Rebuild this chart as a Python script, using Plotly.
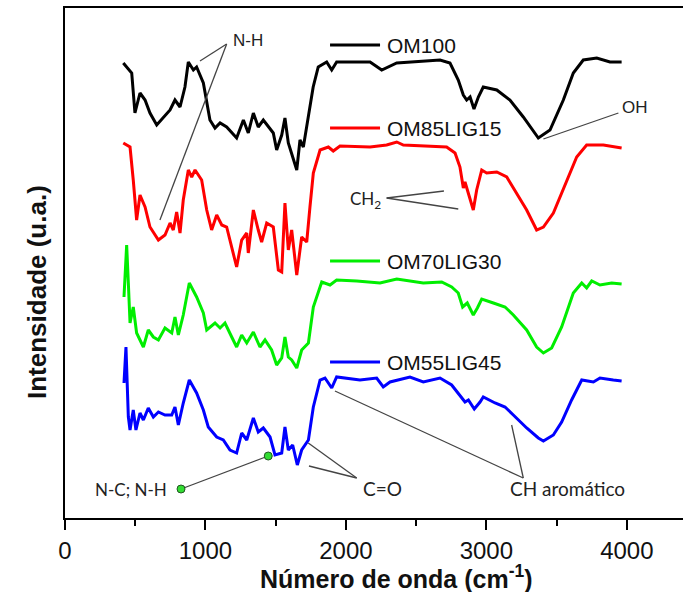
import plotly.graph_objects as go

# ---------------- data ----------------
series_names = ["OM100", "OM85LIG15", "OM70LIG30", "OM55LIG45"]
series_colors = ["#000000", "#ff0000", "#00ee00", "#0000ff"]

om100_x = [415, 475, 498, 534, 570, 605, 653, 699, 748, 783, 819, 854, 878, 914, 937, 985,
           1032, 1068, 1104, 1151, 1222, 1270, 1305, 1341, 1376, 1412, 1483, 1507, 1543, 1566,
           1590, 1650, 1673, 1697, 1730, 1767, 1803, 1863, 1899, 1934, 2172, 2255, 2362, 2670,
           2741, 2800, 2836, 2860, 2884, 2912, 2943, 2978, 3074, 3168, 3263, 3370, 3453, 3548,
           3619, 3690, 3786, 3880, 3963]
om100_y = [455, 445, 405, 425, 418, 405, 393, 400, 408, 418, 411, 431, 456, 448, 451, 435,
           398, 390, 395, 391, 380, 398, 385, 405, 391, 398, 385, 368, 383, 400,
           375, 348, 378, 371, 398, 431, 451, 456, 448, 456, 456, 448, 455, 458,
           455, 438, 423, 418, 421, 409, 421, 431, 428, 418, 401, 380, 388, 418,
           445, 458, 460, 456, 456]

om85_x = [415, 463, 486, 510, 534, 570, 605, 665, 712, 748, 771, 795, 819, 842, 878, 902, 926,
          973, 1009, 1044, 1080, 1116, 1151, 1222, 1258, 1294, 1305, 1341, 1376, 1400, 1436,
          1483, 1519, 1543, 1566, 1590, 1614, 1650, 1685, 1721, 1744, 1768, 1816, 1875, 1910,
          1958, 2172, 2290, 2362, 2409, 2717, 2777, 2812, 2836, 2848, 2872, 2907, 2931, 2967,
          3002, 3074, 3145, 3216, 3287, 3358, 3406, 3477, 3572, 3643, 3714, 3833, 3963]
om85_y = [375, 371, 338, 298, 323, 311, 291, 278, 283, 295, 288, 306, 285, 318, 348, 341, 348,
          338, 308, 288, 303, 293, 291, 251, 278, 285, 265, 308, 288, 276, 295,
          291, 248, 246, 315, 268, 288, 243, 281, 276, 311, 345, 368, 371, 367,
          372, 371, 373, 376, 373, 371, 365, 351, 330, 336, 325, 308, 328, 348,
          345, 346, 341, 325, 308, 288, 291, 305, 338, 361, 373, 373, 370]

om70_x = [420, 439, 451, 463, 486, 510, 558, 593, 629, 665, 712, 760, 783, 807, 842, 885, 937,
          985, 1009, 1068, 1104, 1139, 1187, 1222, 1258, 1294, 1341, 1388, 1424, 1471, 1507,
          1543, 1566, 1590, 1614, 1650, 1685, 1733, 1768, 1828, 1887, 1934, 2077, 2243, 2362,
          2551, 2682, 2753, 2800, 2831, 2864, 2907, 2936, 2967, 3050, 3133, 3192, 3287, 3358,
          3406, 3465, 3536, 3619, 3679, 3714, 3750, 3809, 3892, 3963]
om70_y = [221, 273, 235, 195, 211, 185, 171, 188, 181, 178, 190, 185, 201, 183, 203, 235, 221,
          205, 188, 195, 190, 195, 181, 171, 183, 175, 186, 171, 178, 168, 153,
          160, 181, 161, 158, 150, 168, 175, 211, 236, 233, 238, 237, 235, 239,
          235, 236, 231, 225, 211, 215, 203, 210, 219, 215, 211, 203, 188, 171,
          165, 170, 191, 225, 235, 230, 237, 233, 235, 234]

om55_x = [420, 434, 451, 463, 486, 505, 534, 558, 593, 629, 665, 712, 760, 783, 807, 842, 885,
          937, 985, 1020, 1080, 1127, 1175, 1222, 1258, 1294, 1341, 1376, 1412, 1460, 1495,
          1543, 1566, 1590, 1621, 1654, 1685, 1733, 1768, 1816, 1851, 1899, 1934, 2100, 2219,
          2266, 2314, 2456, 2551, 2670, 2753, 2812, 2848, 2872, 2914, 2955, 2978, 3062, 3133,
          3192, 3287, 3370, 3406, 3477, 3536, 3607, 3679, 3762, 3809, 3904, 3963]
om55_y = [135, 171, 101, 88, 108, 88, 105, 98, 110, 101, 106, 103, 103, 111, 93, 115, 138,
          125, 108, 91, 81, 78, 68, 65, 85, 78, 100, 86, 90, 81, 63,
          65, 91, 68, 73, 53, 68, 78, 111, 138, 140, 130, 141, 138, 140,
          131, 136, 141, 136, 140, 133, 123, 116, 118, 109, 116, 121, 115, 111,
          103, 90, 80, 77, 83, 96, 118, 138, 136, 140, 138, 137]

series_x = [om100_x, om85_x, om70_x, om55_x]
series_y = [om100_y, om85_y, om70_y, om55_y]

x_ticks = [0, 1000, 2000, 3000, 4000]
legend_label_y = [473, 390, 257, 156]

# ---------------- figure ----------------
fig = go.Figure()
for name, color, xs, ys in zip(series_names, series_colors, series_x, series_y):
    fig.add_trace(go.Scatter(x=xs, y=ys, mode="lines", name=name,
                             line=dict(color=color, width=3), showlegend=False))

# green markers for N-C; N-H annotation
fig.add_trace(go.Scatter(x=[826, 1447], y=[29, 62], mode="lines+markers",
                         line=dict(color="#444444", width=1.3),
                         marker=dict(color="#33dd33", size=8,
                                     line=dict(color="#225522", width=1)),
                         showlegend=False, hoverinfo="skip"))

shapes = []
ann = []

def seg(x0, y0, x1, y1, color="#444444", w=1.3):
    shapes.append(dict(type="line", xref="x", yref="y", x0=x0, y0=y0, x1=x1, y1=y1,
                       line=dict(color=color, width=w)))

# legend-like labels
for name, color, ly in zip(series_names, series_colors, legend_label_y):
    seg(1887, ly, 2243, ly, color=color, w=3)
    ann.append(dict(x=2278, y=ly, xref="x", yref="y", text=name, showarrow=False,
                    xanchor="left", yanchor="middle",
                    font=dict(family="Liberation Sans, Arial", size=21, color="#111111")))

def afont(size):
    return dict(family="Lato, Open Sans, sans-serif", size=size, color="#222222")

# N-H
seg(1151, 474, 961, 457)
seg(1151, 474, 676, 298)
ann.append(dict(x=1303, y=478, xref="x", yref="y", text="N-H", showarrow=False,
                font=dict(family="Liberation Sans, Arial", size=17, color="#222222")))
# OH
seg(3940, 405, 3406, 379)
ann.append(dict(x=4058, y=411, xref="x", yref="y", text="OH", showarrow=False,
                font=dict(family="Liberation Sans, Arial", size=17, color="#222222")))
# CH2
seg(2290, 320, 2698, 327)
seg(2290, 320, 2800, 309)
ann.append(dict(x=2143, y=318, xref="x", yref="y", text="CH<sub>2</sub>", showarrow=False,
                font=afont(17)))
# N-C; N-H
ann.append(dict(x=740, y=29, xref="x", yref="y", text="N-C; N-H", showarrow=False,
                xanchor="right", font=afont(17)))
# C=O
seg(2077, 40, 1732, 75)
seg(2077, 40, 1737, 52)
ann.append(dict(x=2264, y=30, xref="x", yref="y", text="C=O", showarrow=False, font=afont(19)))
# CH aromatico
seg(3263, 40, 3180, 93)
seg(3263, 40, 1922, 127)
ann.append(dict(x=3581, y=30, xref="x", yref="y", text="CH aromático", showarrow=False,
                font=afont(19)))

# axis titles (pixel positions converted to paper coordinates below)
ann.append(dict(x=37, y=292, xref="paper", yref="paper", text="<b>Intensidade (u.a.)</b>",
                showarrow=False, textangle=-90, xanchor="center", yanchor="middle",
                font=dict(family="Liberation Sans, Arial", size=26, color="#111111")))
ann.append(dict(x=397, y=577, xref="paper", yref="paper", text="<b>Número de onda (cm<sup>-1</sup>)</b>",
                showarrow=False, xanchor="center", yanchor="middle",
                font=dict(family="Liberation Sans, Arial", size=25, color="#111111")))

W, H = 683, 592
L, R, T, B = 65, 0, 8, 74
for a in ann[-2:]:
    a["x"] = (a["x"] - L) / (W - L - R)
    a["y"] = (H - B - a["y"]) / (H - T - B)

fig.update_layout(
    width=W, height=H,
    margin=dict(l=L, r=R, t=T, b=B),
    plot_bgcolor="white", paper_bgcolor="white",
    shapes=shapes, annotations=ann,
    showlegend=False,
)
fig.update_xaxes(range=[0, 4400], tickvals=x_ticks, ticktext=[str(v) for v in x_ticks],
                 showline=True, linecolor="black", linewidth=2, mirror=True,
                 ticks="outside", ticklen=10, tickwidth=2, tickcolor="black",
                 minor=dict(tickvals=[500, 1500, 2500, 3500], ticklen=6, tickwidth=2,
                            tickcolor="black", ticks="outside"),
                 showgrid=False, zeroline=False,
                 tickfont=dict(family="Liberation Sans, Arial", size=24, color="#111111"))
fig.update_yaxes(range=[0, 510], showline=True, linecolor="black", linewidth=2, mirror=False,
                 showticklabels=False, ticks="", showgrid=False, zeroline=False)

fig.write_html("out.html")
